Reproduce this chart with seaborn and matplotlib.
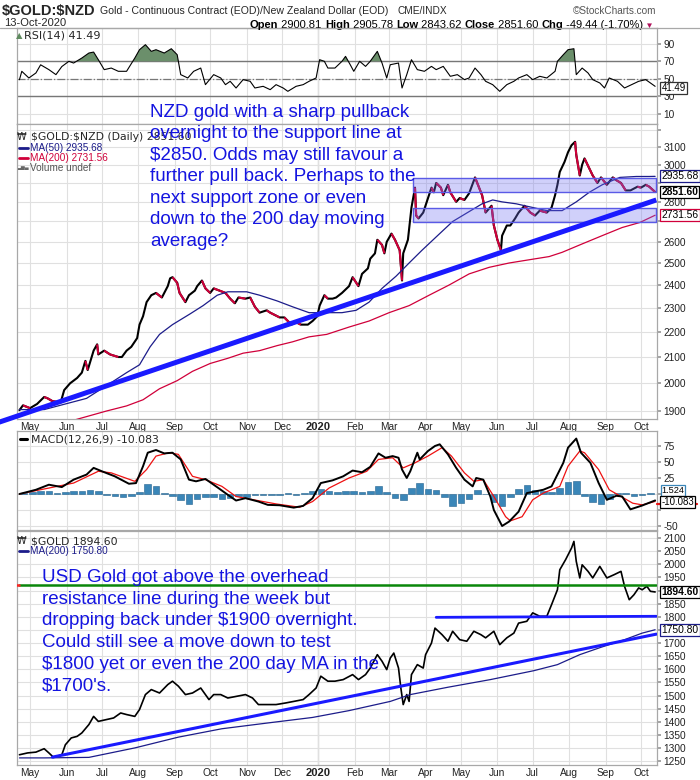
import matplotlib
matplotlib.use("Agg")
import numpy as np
import pandas as pd
import matplotlib.pyplot as plt
import matplotlib.dates as mdates
from matplotlib import font_manager
from matplotlib.collections import LineCollection
from matplotlib.lines import Line2D
from matplotlib.ticker import FixedLocator, NullLocator, FuncFormatter
import seaborn as sns

sns.set_theme(style="white")
plt.rcParams["font.family"] = ["Liberation Sans", "DejaVu Sans"]
plt.rcParams["axes.unicode_minus"] = False
_names = {f.name for f in font_manager.fontManager.ttflist}
NARROW = "Liberation Sans Narrow" if "Liberation Sans Narrow" in _names else "Liberation Sans"

# ---------------- data ----------------
nzd_dates = [
 "2019-04-22","2019-04-25","2019-05-01","2019-05-07","2019-05-13","2019-05-16","2019-05-20","2019-05-27","2019-05-30",
 "2019-06-04","2019-06-10","2019-06-14","2019-06-17","2019-06-19","2019-06-24","2019-06-27","2019-06-28",
 "2019-07-03","2019-07-08","2019-07-15","2019-07-18","2019-07-22","2019-07-26","2019-07-31",
 "2019-08-02","2019-08-05","2019-08-08","2019-08-12","2019-08-16","2019-08-21","2019-08-26","2019-08-28","2019-08-30",
 "2019-09-03","2019-09-05","2019-09-10","2019-09-13","2019-09-18","2019-09-20","2019-09-24","2019-09-27",
 "2019-10-01","2019-10-04","2019-10-09","2019-10-14","2019-10-18","2019-10-22","2019-10-25","2019-10-31",
 "2019-11-04","2019-11-08","2019-11-12","2019-11-18","2019-11-21","2019-11-25","2019-11-29",
 "2019-12-03","2019-12-09","2019-12-13","2019-12-17","2019-12-23","2019-12-27","2019-12-31",
 "2020-01-02","2020-01-06","2020-01-09","2020-01-13","2020-01-16","2020-01-21","2020-01-27","2020-01-30",
 "2020-02-04","2020-02-07","2020-02-12","2020-02-14","2020-02-18","2020-02-20","2020-02-24","2020-02-26","2020-02-28",
 "2020-03-03","2020-03-06","2020-03-10","2020-03-12","2020-03-13","2020-03-17","2020-03-20","2020-03-23","2020-03-24","2020-03-26","2020-03-30",
 "2020-04-02","2020-04-06","2020-04-08","2020-04-10","2020-04-14","2020-04-16","2020-04-20","2020-04-22","2020-04-27","2020-04-30",
 "2020-05-04","2020-05-08","2020-05-13","2020-05-18","2020-05-19","2020-05-22","2020-05-27","2020-05-29",
 "2020-06-01","2020-06-04","2020-06-05","2020-06-09","2020-06-12","2020-06-16","2020-06-19","2020-06-24","2020-06-29",
 "2020-07-03","2020-07-07","2020-07-13","2020-07-17","2020-07-20","2020-07-22","2020-07-24","2020-07-28","2020-07-31",
 "2020-08-03","2020-08-06","2020-08-07","2020-08-10","2020-08-12","2020-08-14","2020-08-18","2020-08-21","2020-08-25","2020-08-28",
 "2020-09-02","2020-09-07","2020-09-10","2020-09-14","2020-09-18","2020-09-22","2020-09-28",
 "2020-10-01","2020-10-05","2020-10-08","2020-10-13"]
nzd_close = [
 1903,1920,1910,1925,1950,1945,1935,1930,1975,
 2000,2020,2040,2085,2050,2125,2150,2110,
 2125,2110,2100,2100,2125,2140,2175,
 2230,2265,2325,2355,2365,2345,2395,2430,2435,
 2410,2365,2325,2355,2375,2395,2420,2385,
 2365,2385,2375,2365,2340,2320,2345,2340,
 2345,2305,2280,2290,2280,2270,2260,
 2260,2230,2240,2230,2230,2245,2265,
 2310,2355,2340,2340,2345,2365,2395,2435,
 2395,2450,2475,2520,2545,2610,2585,2545,2600,
 2640,2610,2560,2420,2545,2610,2770,2875,2730,2715,2745,
 2800,2875,2850,2900,2875,2835,2890,2850,2800,2820,
 2810,2845,2930,2850,2835,2745,2780,2680,
 2610,2560,2630,2680,2680,2715,2745,2780,2745,
 2730,2755,2745,2770,2835,2890,2960,3015,3070,
 3110,3130,3055,2940,3000,3035,2980,2940,2900,2930,
 2890,2930,2915,2900,2860,2860,2880,
 2875,2890,2880,2851.60]

ma50_dates = ["2019-04-22","2019-05-13","2019-06-18","2019-07-08","2019-07-22","2019-08-02","2019-08-11","2019-08-19",
 "2019-08-30","2019-09-14","2019-09-25","2019-10-07","2019-10-16","2019-11-01","2019-11-12","2019-11-27","2019-12-10",
 "2019-12-24","2020-01-08","2020-01-21","2020-02-02","2020-02-13","2020-02-24","2020-03-07","2020-03-18","2020-03-29",
 "2020-04-13","2020-04-24","2020-05-08","2020-05-19","2020-05-28","2020-06-05","2020-06-17","2020-06-28","2020-07-13",
 "2020-07-26","2020-08-07","2020-08-18","2020-08-29","2020-09-13","2020-09-27","2020-10-08","2020-10-13"]
ma50_vals = [1905,1905,1945,2000,2040,2070,2140,2190,2230,2275,2310,2355,2370,2370,2355,2330,2305,2280,2280,2280,
 2290,2325,2385,2440,2500,2560,2640,2700,2750,2790,2810,2800,2790,2775,2755,2755,2800,2850,2890,2930,2935,2935,2935.68]

ma200_dates = ["2019-06-02","2019-07-05","2019-07-22","2019-08-05","2019-08-19","2019-09-03","2019-09-16","2019-10-01",
 "2019-10-16","2019-10-29","2019-11-12","2019-11-27","2019-12-10","2019-12-24","2020-01-08","2020-01-27","2020-02-13",
 "2020-03-01","2020-03-18","2020-04-04","2020-04-21","2020-05-08","2020-05-25","2020-06-11","2020-06-28","2020-07-15",
 "2020-07-26","2020-08-12","2020-08-29","2020-09-15","2020-09-30","2020-10-13"]
ma200_vals = [1862,1900,1918,1940,1980,2010,2045,2075,2095,2115,2125,2145,2160,2180,2190,2220,2245,2280,2310,2355,
 2400,2450,2480,2500,2515,2530,2550,2590,2630,2670,2695,2731.56]

zone_start, zone_end = "2020-03-21", "2020-10-14"
zone_low = [2850, 2697]
zone_high = [2927, 2768]
nzd_trend_dates = ["2019-03-27", "2020-10-14"]
nzd_trend_vals = [1849, 2810]

rsi_dates = ["2019-04-22","2019-04-24","2019-04-30","2019-05-06","2019-05-10","2019-05-17","2019-05-23","2019-05-28",
 "2019-06-03","2019-06-07","2019-06-14","2019-06-20","2019-06-24","2019-06-28","2019-07-03","2019-07-09","2019-07-15",
 "2019-07-22","2019-07-29","2019-08-02","2019-08-07","2019-08-12","2019-08-16","2019-08-23","2019-08-29","2019-09-03",
 "2019-09-06","2019-09-12","2019-09-17","2019-09-23","2019-09-27","2019-10-04","2019-10-10","2019-10-14","2019-10-18",
 "2019-10-23","2019-10-29","2019-11-04","2019-11-08","2019-11-15","2019-11-21","2019-11-26","2019-12-02","2019-12-06",
 "2019-12-13","2019-12-19","2019-12-24","2019-12-30","2020-01-02","2020-01-06","2020-01-09","2020-01-15","2020-01-21",
 "2020-01-24","2020-01-28","2020-01-31","2020-02-05","2020-02-10","2020-02-14","2020-02-20","2020-02-24","2020-02-28",
 "2020-03-02","2020-03-09","2020-03-12","2020-03-16","2020-03-20","2020-03-25","2020-03-31","2020-04-06","2020-04-10",
 "2020-04-16","2020-04-22","2020-04-28","2020-05-04","2020-05-08","2020-05-13","2020-05-18","2020-05-22","2020-05-28",
 "2020-06-03","2020-06-09","2020-06-15","2020-06-19","2020-06-26","2020-07-01","2020-07-07","2020-07-13","2020-07-20",
 "2020-07-22","2020-07-27","2020-07-31","2020-08-05","2020-08-07","2020-08-12","2020-08-17","2020-08-21","2020-08-27",
 "2020-08-31","2020-09-04","2020-09-11","2020-09-17","2020-09-23","2020-09-29","2020-10-05","2020-10-09","2020-10-13"]
rsi_vals = [49,58.6,51,56.7,66,60.5,54.8,64,70,68,73.7,79.4,80.5,71.8,60.5,62.3,58.6,58.6,73.7,83.2,88.9,81.3,83.2,
 79.4,84.3,77.5,54.8,51,58.6,62.3,43.4,54.8,51,43.4,47.2,39.6,49.1,47.2,39.6,41.5,37.7,43.4,39.6,35.8,41.5,43.4,47.2,
 51,71.8,70,62.3,62.3,70,75.6,66.1,58.6,70,64.2,70,81.3,68,51,66.1,68,39.6,54.8,71.8,60.5,58.6,64.2,60.5,64.2,52.9,
 54.8,49.1,51,62.3,54.8,47.2,43.4,35.8,43.4,47.2,51,54.8,49.1,52.9,51,58.6,70,77.5,83.2,84.3,54.8,62.3,56.7,49.1,
 45.3,39.6,51,47.2,39.6,43.4,47.2,49.1,45.3,41.49]

macd_dates = ["2019-04-22","2019-05-06","2019-05-17","2019-05-28","2019-06-07","2019-06-18","2019-06-24","2019-07-01",
 "2019-07-12","2019-07-24","2019-07-30","2019-08-05","2019-08-09","2019-08-16","2019-08-23","2019-08-30","2019-09-06",
 "2019-09-13","2019-09-19","2019-09-27","2019-10-08","2019-10-16","2019-10-23","2019-10-31","2019-11-11","2019-11-19",
 "2019-11-29","2019-12-11","2019-12-19","2019-12-27","2020-01-03","2020-01-13","2020-01-22","2020-01-30","2020-02-07",
 "2020-02-14","2020-02-21","2020-02-27","2020-03-04","2020-03-09","2020-03-12","2020-03-16","2020-03-19","2020-03-25",
 "2020-03-27","2020-04-03","2020-04-09","2020-04-13","2020-04-20","2020-04-27","2020-05-04","2020-05-11","2020-05-14",
 "2020-05-20","2020-05-26","2020-05-29","2020-06-05","2020-06-11","2020-06-19","2020-06-26","2020-07-03","2020-07-10",
 "2020-07-17","2020-07-27","2020-07-31","2020-08-07","2020-08-11","2020-08-19","2020-08-26","2020-09-02","2020-09-10",
 "2020-09-15","2020-09-22","2020-10-02","2020-10-13"]
macd_vals = [0,6.6,14.5,10.8,22.4,30.3,40.8,35.5,27.6,16,17,43.4,64.5,68.7,63.4,64.5,54,22.4,19.8,23.5,9.3,-1.3,-10.2,
 -6.5,-11.8,-17,-17.6,-21.3,-18.6,-6.5,17.1,21.3,27.6,36.6,34,42.4,63.4,56.6,59.2,56.6,38.2,25,35.5,64.5,54,67.1,75,
 77.6,61.9,40.8,22.4,11.9,25,22.4,-3.9,-25,-50,-43,-27.6,1.4,4,6.6,11.9,48.7,72.4,86.6,64.5,48.7,17.1,-9.1,-2.8,-3.9,
 -24,-18,-10.083]

signal_dates = ["2019-04-22","2019-05-17","2019-06-07","2019-06-28","2019-07-09","2019-07-29","2019-08-08","2019-08-16",
 "2019-08-27","2019-09-04","2019-09-16","2019-09-27","2019-10-11","2019-10-23","2019-11-07","2019-11-26","2019-12-16",
 "2019-12-27","2020-01-10","2020-01-27","2020-02-11","2020-02-21","2020-03-04","2020-03-13","2020-03-23","2020-04-03",
 "2020-04-15","2020-04-23","2020-05-04","2020-05-12","2020-05-20","2020-05-29","2020-06-08","2020-06-12","2020-06-22",
 "2020-07-01","2020-07-10","2020-07-24","2020-07-31","2020-08-10","2020-08-14","2020-08-26","2020-09-04","2020-09-14",
 "2020-09-24","2020-10-02","2020-10-13"]
signal_vals = [0,9.3,17.1,35.5,33,19.8,38.2,59.2,64.5,61.9,27.6,22.4,11.9,-3.9,-9.1,-15.5,-20.7,-11.8,9.3,25,35.5,54,
 56.6,40.8,48.7,59.2,72.4,59.2,33,19.8,22.4,-3.9,-35.5,-42,-35.5,-9.1,1.4,11.9,43.4,67.1,64.5,38.2,6.6,-3.9,-14.4,
 -17,-11.608]

hist_first_friday = "2019-04-26"
hist_vals = [2,3,4,4,2,3,4,5,6,4, -2,-3,-4,-3,3,16,12,2,-3,-10, -16,-8,-4,-5,-8,-6,-3,-5,-2,-1,
 -1,-1,1,-1,2,5,8,4,3,4, 5,3,5,13,3,-6,-10,10,17,8, 7,-4,-18,-14,-8,7,0,-12,-18,-5,
 8,14,6,4,3,9,18,20,-3,-12, -15,-8,2,1,-3,-2,1.524]

gold_dates = ["2019-04-22","2019-04-29","2019-05-06","2019-05-13","2019-05-17","2019-05-21","2019-05-28","2019-05-31",
 "2019-06-05","2019-06-10","2019-06-14","2019-06-20","2019-06-24","2019-06-28","2019-07-05","2019-07-11","2019-07-17",
 "2019-07-22","2019-07-29","2019-08-02","2019-08-07","2019-08-12","2019-08-19","2019-08-26","2019-08-30","2019-09-04",
 "2019-09-10","2019-09-16","2019-09-23","2019-09-30","2019-10-04","2019-10-10","2019-10-16","2019-10-23","2019-10-31",
 "2019-11-06","2019-11-11","2019-11-19","2019-11-26","2019-12-04","2019-12-11","2019-12-19","2019-12-24","2019-12-30",
 "2020-01-03","2020-01-09","2020-01-15","2020-01-22","2020-01-30","2020-02-04","2020-02-10","2020-02-14","2020-02-20",
 "2020-02-24","2020-02-28","2020-03-02","2020-03-05","2020-03-09","2020-03-11","2020-03-13","2020-03-16","2020-03-18",
 "2020-03-20","2020-03-25","2020-03-30","2020-04-01","2020-04-06","2020-04-09","2020-04-15","2020-04-20","2020-04-24",
 "2020-04-30","2020-05-06","2020-05-12","2020-05-18","2020-05-22","2020-05-29","2020-06-03","2020-06-09","2020-06-15",
 "2020-06-19","2020-06-26","2020-07-01","2020-07-07","2020-07-13","2020-07-17","2020-07-22","2020-07-24","2020-07-29",
 "2020-08-03","2020-08-05","2020-08-07","2020-08-10","2020-08-12","2020-08-17","2020-08-21","2020-08-27","2020-09-02",
 "2020-09-08","2020-09-14","2020-09-17","2020-09-21","2020-09-25","2020-09-29","2020-10-02","2020-10-06","2020-10-09",
 "2020-10-13"]
gold_close = [1275,1282,1285,1298,1282,1265,1275,1313,1339,1345,1358,1390,1421,1402,1409,1415,1434,1428,1421,1447,
 1504,1523,1510,1542,1555,1536,1504,1510,1529,1485,1504,1504,1491,1497,1504,1491,1466,1466,1466,1472,1478,1485,1504,
 1529,1574,1555,1555,1561,1580,1561,1580,1605,1656,1631,1599,1643,1662,1605,1529,1466,1504,1478,1580,1618,1605,1656,
 1700,1757,1732,1707,1745,1713,1707,1745,1732,1720,1745,1694,1720,1738,1776,1783,1815,1802,1802,1846,1903,1979,2018,
 2062,2087,2011,1948,1998,1973,1948,1992,1948,1960,1973,1916,1865,1884,1910,1903,1916,1897,1894.60]

gold_ma_dates = ["2019-04-22","2019-05-13","2019-06-20","2019-07-29","2019-09-04","2019-10-11","2019-11-19","2019-12-27",
 "2020-01-27","2020-03-02","2020-03-19","2020-04-20","2020-05-26","2020-07-02","2020-07-22","2020-08-10","2020-08-28",
 "2020-09-17","2020-10-02","2020-10-13"]
gold_ma_vals = [1263,1263,1265,1301,1342,1374,1396,1417,1443,1478,1504,1532,1561,1595,1618,1656,1684,1713,1738,1750.80]

resist_level = 1920
resist_dates = ["2019-04-22", "2020-10-14"]
resist_lead_dates = ["2019-04-19", "2019-04-22"]
support_dates = ["2020-04-10", "2020-10-14"]
support_vals = [1798, 1802]
gold_trend_dates = ["2019-05-20", "2020-10-14"]
gold_trend_vals = [1266, 1734]

month_starts = ["2019-05-01","2019-06-01","2019-07-01","2019-08-01","2019-09-01","2019-10-01","2019-11-01","2019-12-01",
 "2020-01-01","2020-02-01","2020-03-01","2020-04-01","2020-05-01","2020-06-01","2020-07-01","2020-08-01","2020-09-01","2020-10-01"]
month_labels = ["May","Jun","Jul","Aug","Sep","Oct","Nov","Dec","2020","Feb","Mar","Apr","May","Jun","Jul","Aug","Sep","Oct"]

rsi_ticks = [10, 30, 50, 70, 90]
main_ticks = [1900,2000,2100,2200,2300,2400,2500,2600,2700,2800,2900,3000,3100,3200]
main_hidden = [2700, 2900, 3200]
macd_ticks = [-50, -25, 0, 25, 50, 75]
gold_ticks = list(range(1250, 2101, 50))
gold_hidden = [1750, 1900]

# ---------------- figure ----------------
W, H = 700, 780
fig = plt.figure(figsize=(7, 7.8), dpi=100)
fig.patch.set_facecolor("white")
L, R = 16.5, 657

def panel(top, bottom):
    return fig.add_axes([L / W, 1 - bottom / H, (R - L) / W, (bottom - top) / H])

def ptext(x, y, s, **kw):
    kw.setdefault("parse_math", False)
    return fig.text(x / W, 1 - y / H, s, **kw)

ax_rsi = panel(28, 124)
ax_main = panel(124, 419)
ax_macd = panel(431, 530)
ax_gold = panel(531, 765)

NAVY = "#1c1c8a"
RED = "#d0003a"
BLUE = "#1a1aff"
TXT = "#1414e0"

D = pd.to_datetime
nzd = pd.DataFrame({"date": D(nzd_dates), "close": nzd_close})
ma50 = pd.DataFrame({"date": D(ma50_dates), "v": ma50_vals})
ma200 = pd.DataFrame({"date": D(ma200_dates), "v": ma200_vals})
rsi = pd.DataFrame({"date": D(rsi_dates), "v": rsi_vals})
macd = pd.DataFrame({"date": D(macd_dates), "v": macd_vals})
sig = pd.DataFrame({"date": D(signal_dates), "v": signal_vals})
hist = pd.DataFrame({"date": pd.date_range(hist_first_friday, periods=len(hist_vals), freq="W-FRI"), "v": hist_vals})
gold = pd.DataFrame({"date": D(gold_dates), "close": gold_close})
gma = pd.DataFrame({"date": D(gold_ma_dates), "v": gold_ma_vals})

def updown(ax, df, col, lw):
    xs = mdates.date2num(df["date"])
    ys = df[col].values
    segs = [[(xs[i - 1], ys[i - 1]), (xs[i], ys[i])] for i in range(1, len(xs)) if ys[i] < ys[i - 1]]
    ax.add_collection(LineCollection(segs, colors=RED, linewidths=lw, zorder=5))

# RSI
sns.lineplot(data=rsi, x="date", y="v", ax=ax_rsi, color="black", lw=0.8, zorder=4)
ax_rsi.fill_between(rsi["date"], 70, rsi["v"], where=rsi["v"] > 70, interpolate=True, color="#6b8f6b", zorder=3, lw=0)
ax_rsi.axhline(70, color="#777777", lw=1.0, zorder=2)
ax_rsi.axhline(30, color="#777777", lw=1.0, zorder=2)
ax_rsi.axhline(50, color="#777777", lw=0.9, ls="-.", zorder=2)
ax_rsi.set_ylim(-1.4, 107.9)
ax_rsi.yaxis.set_major_locator(FixedLocator(rsi_ticks))

# Main NZD
ax_main.set_yscale("log")
sns.lineplot(data=nzd, x="date", y="close", ax=ax_main, color="black", lw=1.5, zorder=4)
updown(ax_main, nzd, "close", 1.5)
sns.lineplot(data=ma50, x="date", y="v", ax=ax_main, color=NAVY, lw=0.9, zorder=5)
sns.lineplot(data=ma200, x="date", y="v", ax=ax_main, color=RED, lw=0.9, zorder=5)
for lo, hi in zip(zone_low, zone_high):
    ax_main.fill_between(D([zone_start, zone_end]), lo, hi, facecolor=(0.45, 0.45, 0.95, 0.33),
                         edgecolor="#5a5ae6", lw=1.0, zorder=6)
ax_main.plot(D(nzd_trend_dates), nzd_trend_vals, color=BLUE, lw=3.6, solid_capstyle="butt", clip_on=False, zorder=7)
ax_main.set_ylim(1872, 3235)
ax_main.yaxis.set_major_locator(FixedLocator(main_ticks))
ax_main.yaxis.set_minor_locator(NullLocator())
ax_main.yaxis.set_major_formatter(FuncFormatter(lambda v, p: "" if round(v) in main_hidden else f"{v:.0f}"))

# MACD
ax_macd.bar(hist["date"], hist["v"], width=5.6, color="#3a86b8", edgecolor="#23628e", lw=0.4, zorder=3)
sns.lineplot(data=sig, x="date", y="v", ax=ax_macd, color="#ee1111", lw=0.9, zorder=4)
sns.lineplot(data=macd, x="date", y="v", ax=ax_macd, color="black", lw=1.4, zorder=5)
ax_macd.set_ylim(-56.25, 98.4)
ax_macd.yaxis.set_major_locator(FixedLocator(macd_ticks))
ax_macd.yaxis.set_major_formatter(FuncFormatter(lambda v, p: "" if v in (0, -25) else f"{v:.0f}"))

# Gold USD
sns.lineplot(data=gold, x="date", y="close", ax=ax_gold, color="black", lw=1.2, zorder=4)
sns.lineplot(data=gma, x="date", y="v", ax=ax_gold, color=NAVY, lw=0.9, zorder=5)
ax_gold.plot(D(resist_dates), [resist_level, resist_level], color="#0a870a", lw=1.8, zorder=6)
ax_gold.plot(D(resist_lead_dates), [resist_level, resist_level], color="#ff2020", lw=1.8, zorder=6)
ax_gold.plot(D(support_dates), support_vals, color=BLUE, lw=2.0, zorder=6)
ax_gold.plot(D(gold_trend_dates), gold_trend_vals, color=BLUE, lw=2.2, zorder=6)
ax_gold.set_ylim(1236, 2126.6)
ax_gold.yaxis.set_major_locator(FixedLocator(gold_ticks))
ax_gold.yaxis.set_major_formatter(FuncFormatter(lambda v, p: "" if round(v) in gold_hidden else f"{v:.0f}"))

xmin, xmax = pd.Timestamp("2019-04-19 12:00"), pd.Timestamp("2020-10-14 14:00")
for ax in (ax_rsi, ax_main, ax_macd, ax_gold):
    ax.set_xlim(xmin, xmax)
    ax.set_xticks(D(month_starts))
    ax.set_xticklabels(month_labels)
    ax.set_xlabel("")
    ax.set_ylabel("")
    ax.set_axisbelow(True)
    ax.grid(True, color="#e0e0e0", lw=0.8, zorder=0)
    ax.axvline(pd.Timestamp("2020-01-01"), color="#b8b8b8", lw=0.9, zorder=0.5)
    ax.yaxis.tick_right()
    ax.tick_params(axis="y", length=3, color="#999999", pad=1.5, labelsize=7.3, labelcolor="#222222",
                   left=False, right=True)
    ax.tick_params(axis="x", length=0, pad=2.5, labelsize=7.3, labelcolor="#222222")
    for s in ax.spines.values():
        s.set_color("#a8a8a8")
        s.set_linewidth(0.9)
    for lbl in ax.get_xticklabels():
        if lbl.get_text() == "2020":
            lbl.set_fontweight("bold")
            lbl.set_fontsize(8)
for ax in (ax_rsi, ax_macd):
    ax.tick_params(axis="x", labelbottom=False)

# value tags on right
def tag(ax, val, text, ec, bold=False, size=7.4, dy=0.0):
    ax.annotate(text, xy=(1, val), xycoords=ax.get_yaxis_transform(), xytext=(3.2, dy), textcoords="offset points",
                ha="left", va="center", fontsize=size, color="black", fontweight="bold" if bold else "normal",
                bbox=dict(boxstyle="square,pad=0.1", fc="white", ec=ec, lw=0.9), zorder=20, annotation_clip=False)

tag(ax_rsi, rsi_vals[-1], f"{rsi_vals[-1]:.2f}", "#333333", size=7.0, dy=-1.5)
tag(ax_main, ma50_vals[-1], f"{ma50_vals[-1]:.2f}", NAVY)
tag(ax_main, ma200_vals[-1], f"{ma200_vals[-1]:.2f}", RED)
tag(ax_main, nzd_close[-1], f"{nzd_close[-1]:.2f}", "black", bold=True)
# signal marker (hidden behind the MACD tag in the reference, only its red edge shows)
ax_macd.plot([1.0, 1.062], [signal_vals[-1] - 3.5] * 2, transform=ax_macd.get_yaxis_transform(),
             color="#ee1111", lw=1.6, clip_on=False, zorder=19)
tag(ax_macd, hist_vals[-1], f"{hist_vals[-1]:.3f}", "#3a86b8", size=6.6, dy=2.0)
tag(ax_macd, macd_vals[-1], f"{macd_vals[-1]:.3f}", "black", size=7.0, dy=-1.2)
tag(ax_gold, gold_ma_vals[-1], f"{gold_ma_vals[-1]:.2f}", NAVY)
tag(ax_gold, gold_close[-1], f"{gold_close[-1]:.2f}", "black", bold=True)

# header
ptext(2, 11, "$GOLD:$NZD", fontsize=10.5, fontweight="bold", va="center", ha="left")
ptext(100, 11, "Gold - Continuous Contract (EOD)/New Zealand Dollar (EOD)", fontsize=7.6, va="center")
ptext(397, 11, "CME/INDX", fontsize=7.3, va="center")
ptext(656, 11, "\u00a9StockCharts.com", fontsize=7.2, va="center", ha="right", color="#555555")
ptext(4, 23.5, "13-Oct-2020", fontsize=8, va="center")

parts = [("Open", "bold", "black"), (" 2900.81 ", "normal", "black"), ("High", "bold", "black"),
         (" 2905.78 ", "normal", "black"), ("Low", "bold", "black"), (" 2843.62 ", "normal", "black"),
         ("Close", "bold", "black"), (" 2851.60 ", "normal", "black"), ("Chg", "bold", "black"),
         (" -49.44 (-1.70%)", "normal", "black"), (" \u25bc", "normal", "#b0105a")]
prev = None
for s, wgt, col in parts:
    if prev is None:
        prev = ptext(250, 29.5, s, fontsize=8, fontweight=wgt, color=col, va="bottom", ha="left")
    else:
        prev = ax_rsi.annotate(s, xy=(1, 0), xycoords=prev, va="bottom", ha="left", fontsize=8 if "\u25bc" not in s else 6,
                               fontweight=wgt, color=col, annotation_clip=False)
fig.add_artist(Line2D([0, 1], [1 - 28 / H] * 2, color="#a8a8a8", lw=0.9))

# legends
ptext(16, 35.5, "\u25b2", fontsize=6, color="#5f8a5f", va="center", family="DejaVu Sans")
ptext(24, 35.5, f"RSI(14) {rsi_vals[-1]:.2f}", fontsize=8, va="center", family="DejaVu Sans")

ptext(17, 137, "\u20a9", fontsize=7, va="center", family="DejaVu Sans")
ptext(31, 137, f"$GOLD:$NZD (Daily) {nzd_close[-1]:.2f}", fontsize=7.8, va="center", family="DejaVu Sans")
fig.add_artist(Line2D([19 / W, 28 / W], [1 - 148 / H] * 2, color=NAVY, lw=2))
ptext(29.5, 148, f"MA(50) {ma50_vals[-1]:.2f}", fontsize=7.2, va="center", color=NAVY, family=NARROW)
fig.add_artist(Line2D([19 / W, 28 / W], [1 - 158 / H] * 2, color=RED, lw=2))
ptext(29.5, 158, f"MA(200) {ma200_vals[-1]:.2f}", fontsize=7.2, va="center", color=RED, family=NARROW)
ptext(17.5, 168, "\u2583\u2586\u2584", fontsize=3.6, va="center", color="#666666", family="DejaVu Sans")
ptext(29.5, 168, "Volume undef", fontsize=7.2, va="center", color="#555555", family=NARROW)

fig.add_artist(Line2D([20 / W, 27 / W], [1 - 439 / H] * 2, color="black", lw=2.2))
prev = ptext(31, 439, f"MACD(12,26,9) {macd_vals[-1]:.3f}", fontsize=7.8, va="center", family="DejaVu Sans")
prev = ax_rsi.annotate(f", {signal_vals[-1]:.3f}", xy=(1, 0.5), xycoords=prev, va="center", ha="left", fontsize=7.8,
                       color="#ee1111", family="DejaVu Sans", annotation_clip=False)
ax_rsi.annotate(f", {hist_vals[-1]:.3f}", xy=(1, 0.5), xycoords=prev, va="center", ha="left", fontsize=7.8,
                color="#3a96cc", family="DejaVu Sans", annotation_clip=False)

ptext(17, 541, "\u20a9", fontsize=7, va="center", family="DejaVu Sans")
ptext(31, 541, f"$GOLD {gold_close[-1]:.2f}", fontsize=7.8, va="center", family="DejaVu Sans")
fig.add_artist(Line2D([19 / W, 28 / W], [1 - 551 / H] * 2, color=NAVY, lw=2))
ptext(29.5, 551, f"MA(200) {gold_ma_vals[-1]:.2f}", fontsize=7.2, va="center", color=NAVY, family=NARROW)

# annotations
ptext(150, 104, "NZD gold with a sharp pullback\novernight to the support line at\n$2850. Odds may still favour a\n"
      "further pull back. Perhaps to the\nnext support zone or even\ndown to the 200 day moving\naverage?",
      fontsize=13.5, color=TXT, va="top", ha="left", linespacing=1.34, zorder=30)
ptext(42, 569, "USD Gold got above the overhead\nresistance line during the week but\n"
      "dropping back under $1900 overnight.\nCould still see a move down to test\n"
      "$1800 yet or even the 200 day MA in the\n$1700's.",
      fontsize=13.5, color=TXT, va="top", ha="left", linespacing=1.36, zorder=30)

fig.savefig("out.png", dpi=100, facecolor="white")
